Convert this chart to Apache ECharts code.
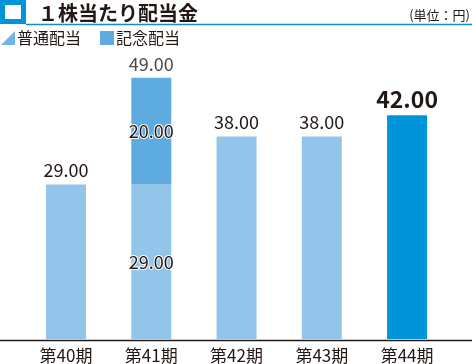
<!DOCTYPE html>
<html><head><meta charset="utf-8">
<script src="https://cdn.jsdelivr.net/npm/echarts@6/dist/echarts.min.js"></script>
<style>html,body{margin:0;padding:0;background:#fff}#c{width:472px;height:364px}</style>
</head><body><div id="c"></div>
<script>
const categories = ['第40期','第41期','第42期','第43期','第44期'];
const regular = [29, 29, 38, 38, 42];
const commemorative = ['-', 20, '-', '-', '-'];
const totals = ['-', 49, '-', '-', '-'];
const seriesNames = ['普通配当','記念配当'];

const FONT = '"Noto Sans CJK JP", "Noto Sans", sans-serif';
const DARK = '#231815';
const LIGHT = '#93c5ea';
const MID = '#5eabdf';
const STRONG = '#0095d9';

const chart = echarts.init(document.getElementById('c'), null, {renderer:'canvas'});
chart.setOption({
  animation: false,
  textStyle: {fontFamily: FONT},
  grid: {left: 23.4, right: 22.3, top: 19.2, bottom: 24},
  legend: {
    left: 1, top: 30, itemWidth: 14, itemHeight: 14, itemGap: 19, padding: 0,
    textStyle: {fontSize: 16, color: DARK, fontFamily: FONT, padding: [0, 0, 0, -3]},
    data: [
      {name: seriesNames[0], icon: 'path://M1,0 L1,1 L0,1 Z', itemStyle: {color: '#72b5e5'}},
      {name: seriesNames[1], icon: 'rect', itemStyle: {color: MID}}
    ]
  },
  xAxis: {
    type: 'category', data: categories,
    axisLine: {show: false}, axisTick: {show: false},
    axisLabel: {fontSize: 17, color: DARK, margin: 8, fontFamily: FONT}
  },
  yAxis: {type: 'value', min: 0, max: 60, show: false, splitLine: {show: false}},
  series: [
    {
      name: seriesNames[0], type: 'bar', stack: 'a', barWidth: 40,
      data: regular.map((v, i) => {
        const item = {value: v};
        if (i === 1) item.label = {position: 'inside', textBorderColor: '#fff', textBorderWidth: 2};
        if (i === 4) {
          item.itemStyle = {color: STRONG};
          item.label = {fontSize: 23, fontWeight: 'bold', distance: 4};
        }
        return item;
      }),
      itemStyle: {color: LIGHT},
      label: {show: true, position: 'top', fontSize: 18, color: DARK, distance: 5,
        fontFamily: FONT, formatter: p => Number(p.value).toFixed(2)}
    },
    {
      name: seriesNames[1], type: 'bar', stack: 'a', barWidth: 40,
      data: commemorative,
      itemStyle: {color: MID},
      label: {show: true, position: 'inside', fontSize: 18, color: DARK,
        textBorderColor: '#fff', textBorderWidth: 2, fontFamily: FONT,
        formatter: p => Number(p.value).toFixed(2)}
    },
    {
      name: 'total', type: 'scatter', symbolSize: 0, data: totals,
      label: {show: true, position: 'top', fontSize: 18, color: DARK, distance: 5,
        fontFamily: FONT, formatter: p => Number(p.value).toFixed(2)},
      silent: true
    }
  ],
  graphic: [
    {type: 'rect', shape: {x: 0, y: 0, width: 26, height: 24}, style: {fill: STRONG}},
    {type: 'rect', shape: {x: 5, y: 5, width: 16, height: 14}, style: {fill: '#fff'}},
    {type: 'line', shape: {x1: 26, y1: 24.5, x2: 472, y2: 24.5}, style: {stroke: '#1a8ad0', lineWidth: 1.5}},
    {type: 'text', style: {x: 38, y: 13, text: '１株当たり配当金', font: 'bold 20px ' + FONT, fill: DARK, textVerticalAlign: 'middle'}},
    {type: 'text', style: {x: 470, y: 15, text: '(単位：円)', font: '13px ' + FONT, fill: DARK, textAlign: 'right', textVerticalAlign: 'middle'}},
    {type: 'line', shape: {x1: 0, y1: 340.5, x2: 472, y2: 340.5}, style: {stroke: DARK, lineWidth: 1.5}}
  ]
});
</script></body></html>
